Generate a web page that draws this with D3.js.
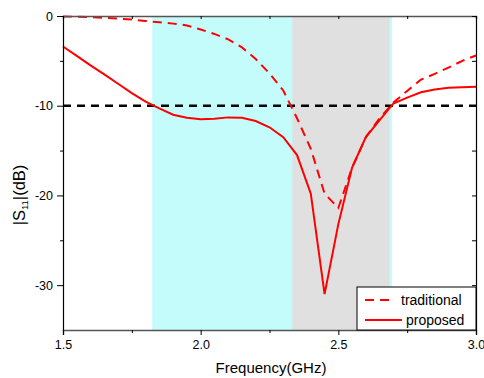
<!DOCTYPE html>
<html>
<head>
<meta charset="utf-8">
<script src="https://cdn.jsdelivr.net/npm/d3@7/dist/d3.min.js"></script>
<style>
  html, body { margin: 0; padding: 0; background: #fff; }
  svg { display: block; font-family: Arial, "Liberation Sans", sans-serif; }
</style>
</head>
<body>
<svg id="chart" width="484" height="378"></svg>
<script>
// Frequency samples (GHz)
const freq = [1.50, 1.55, 1.60, 1.65, 1.70, 1.75, 1.80, 1.85, 1.90, 1.95,
              2.00, 2.05, 2.10, 2.15, 2.20, 2.25, 2.30, 2.35, 2.40, 2.45,
              2.50, 2.55, 2.60, 2.65, 2.70, 2.75, 2.80, 2.85, 2.90, 2.95, 3.00];

// |S11| in dB
const traditional = [-0.05, -0.08, -0.12, -0.2, -0.3, -0.4, -0.55, -0.7, -0.85, -1.05,
                     -1.5, -2.0, -2.6, -3.5, -4.8, -6.4, -8.3, -11.4, -14.8, -19.8,
                     -21.4, -16.9, -13.5, -11.4, -9.65, -8.35, -7.1, -6.45, -5.75, -5.0, -4.4];
const proposed = [-3.4, -4.45, -5.5, -6.5, -7.55, -8.6, -9.55, -10.3, -11.0, -11.35,
                  -11.5, -11.45, -11.3, -11.35, -11.7, -12.4, -13.5, -15.5, -19.8, -31.0,
                  -23.2, -16.9, -13.5, -11.6, -9.75, -9.1, -8.5, -8.2, -8.0, -7.95, -7.9];

// Highlighted frequency bands (GHz)
const cyanBand = [1.824, 2.695];
const grayBand = [2.333, 2.686];
const threshold = -10;

const xTicks = [1.5, 2.0, 2.5, 3.0];
const xMinor = [1.75, 2.25, 2.75];
const yTicks = [0, -10, -20, -30];
const yMinor = [-5, -15, -25];
const legendLabels = ["traditional", "proposed"];

const svg = d3.select("#chart");
const plotL = 63, plotR = 476, plotT = 16, plotB = 330;

const x = d3.scaleLinear().domain([1.5, 3.0]).range([plotL, plotR]);
const y = d3.scaleLinear().domain([-35, 0]).range([plotB, plotT]);

// bands
svg.append("rect")
  .attr("x", x(cyanBand[0])).attr("y", plotT)
  .attr("width", x(cyanBand[1]) - x(cyanBand[0])).attr("height", plotB - plotT)
  .attr("fill", "#c4fcfc");
svg.append("rect")
  .attr("x", x(grayBand[0])).attr("y", plotT)
  .attr("width", x(grayBand[1]) - x(grayBand[0])).attr("height", plotB - plotT)
  .attr("fill", "#e0e0e0");

// -10 dB reference line
svg.append("line")
  .attr("x1", plotL).attr("x2", plotR)
  .attr("y1", y(threshold)).attr("y2", y(threshold))
  .attr("stroke", "#000").attr("stroke-width", 2.5)
  .attr("stroke-dasharray", "8,6");

const line = d3.line().x((d, i) => x(freq[i])).y(d => y(d));

svg.append("path").datum(traditional)
  .attr("d", line).attr("fill", "none")
  .attr("stroke", "#ff0000").attr("stroke-width", 2)
  .attr("stroke-dasharray", "9,6");
svg.append("path").datum(proposed)
  .attr("d", line).attr("fill", "none")
  .attr("stroke", "#ff0000").attr("stroke-width", 2);

// axes
const gx = svg.append("g").attr("transform", `translate(0,${plotB})`)
  .call(d3.axisBottom(x).tickValues(xTicks).tickFormat(d3.format(".1f")).tickSize(5).tickPadding(5));
gx.select(".domain").attr("stroke", "#555").attr("stroke-width", 1.5);
gx.selectAll(".tick line").attr("stroke", "#000");
gx.selectAll("text").attr("font-size", 12.5).attr("fill", "#000");
svg.append("g").attr("transform", `translate(0,${plotB})`)
  .call(d3.axisBottom(x).tickValues(xMinor).tickFormat("").tickSize(3))
  .call(g => g.select(".domain").remove());

const gt = svg.append("g").attr("transform", `translate(0,${plotT})`)
  .call(d3.axisBottom(x).tickValues(xTicks.concat(xMinor)).tickFormat("").tickSizeOuter(0).tickSize(3));
gt.select(".domain").attr("stroke", "#555").attr("stroke-width", 1.5);

// plain hyphen-minus for negative tick labels
const yFmt = d => String(d);
const gy = svg.append("g").attr("transform", `translate(${plotL},0)`)
  .call(d3.axisLeft(y).tickValues(yTicks).tickFormat(yFmt).tickSize(6).tickSizeOuter(0).tickPadding(4));
gy.select(".domain").attr("stroke", "#000").attr("stroke-width", 1.2);
gy.selectAll("text").attr("font-size", 12.5).attr("fill", "#000");
svg.append("g").attr("transform", `translate(${plotL},0)`)
  .call(d3.axisLeft(y).tickValues(yMinor).tickFormat("").tickSize(3))
  .call(g => g.select(".domain").remove());

const gr = svg.append("g").attr("transform", `translate(${plotR},0)`)
  .call(d3.axisLeft(y).tickValues(yTicks.concat(yMinor)).tickFormat("").tickSize(4).tickSizeOuter(0));
gr.select(".domain").attr("stroke", "#000").attr("stroke-width", 1.2);

// axis titles
svg.append("text")
  .attr("x", 271).attr("y", 373)
  .attr("text-anchor", "middle").attr("font-size", 15)
  .text("Frequency(GHz)");

const yl = svg.append("text")
  .attr("transform", "translate(25,195) rotate(-90)")
  .attr("text-anchor", "middle").attr("font-size", 16.5);
yl.append("tspan").text("|S");
yl.append("tspan").attr("font-size", 9.5).attr("dy", 3).text("11");
yl.append("tspan").attr("dy", -3).text("|(dB)");

// legend
const lg = svg.append("g");
lg.append("rect")
  .attr("x", 357).attr("y", 287).attr("width", plotR - 357).attr("height", plotB - 287)
  .attr("fill", "#fff").attr("stroke", "#000").attr("stroke-width", 1);
lg.append("line").attr("x1", 365).attr("x2", 395).attr("y1", 300).attr("y2", 300)
  .attr("stroke", "#ff0000").attr("stroke-width", 2).attr("stroke-dasharray", "9,6");
lg.append("line").attr("x1", 365).attr("x2", 402).attr("y1", 320).attr("y2", 320)
  .attr("stroke", "#ff0000").attr("stroke-width", 2);
lg.append("text").attr("x", 401).attr("y", 305).attr("font-size", 14).text(legendLabels[0]);
lg.append("text").attr("x", 406).attr("y", 325).attr("font-size", 14).text(legendLabels[1]);
</script>
</body>
</html>
